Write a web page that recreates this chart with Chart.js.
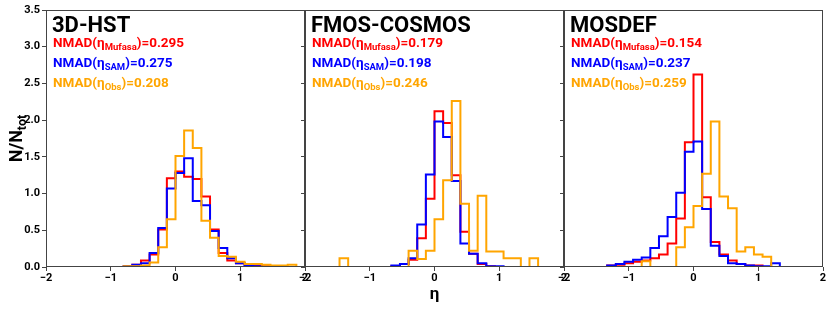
<!DOCTYPE html>
<html>
<head>
<meta charset="utf-8">
<script src="https://cdn.jsdelivr.net/npm/chart.js@4.4.1/dist/chart.umd.min.js"></script>
<style>
  html, body { margin: 0; padding: 0; background: #fff; }
  #wrap { position: relative; width: 831px; height: 309px; overflow: hidden; }
  #wrap canvas { position: absolute; top: 0; }
</style>
</head>
<body>
<div id="wrap">
  <canvas id="p0"></canvas>
  <canvas id="p1"></canvas>
  <canvas id="p2"></canvas>
</div>
<script>
// bin edges of eta (30 bins between -2 and 2)
const binEdges = [-2, -1.8667, -1.7333, -1.6, -1.4667, -1.3333, -1.2, -1.0667, -0.9333, -0.8,
  -0.6667, -0.5333, -0.4, -0.2667, -0.1333, 0, 0.1333, 0.2667, 0.4, 0.5333,
  0.6667, 0.8, 0.9333, 1.0667, 1.2, 1.3333, 1.4667, 1.6, 1.7333, 1.8667, 2];

const surveys = ['3D-HST', 'FMOS-COSMOS', 'MOSDEF'];
const nmadMufasa = [0.295, 0.179, 0.154];
const nmadSAM = [0.275, 0.198, 0.237];
const nmadObs = [0.208, 0.246, 0.259];

// N/Ntot per bin
const hstMufasa = [0, 0, 0, 0, 0, 0, 0, 0, 0, 0.01, 0.03, 0.09, 0.17, 0.51, 1.21, 1.30, 1.23, 1.20, 0.96, 0.51, 0.19, 0.09, 0.05, 0.03, 0.02, 0.01, 0.01, 0, 0, 0];
const hstSAM    = [0, 0, 0, 0, 0, 0, 0, 0, 0, 0.01, 0.03, 0.05, 0.19, 0.53, 1.07, 1.28, 1.48, 0.90, 0.84, 0.49, 0.26, 0.12, 0.05, 0.02, 0.01, 0, 0, 0, 0, 0];
const hstObs    = [0, 0, 0, 0, 0, 0, 0, 0, 0, 0.01, 0.01, 0.02, 0.06, 0.27, 0.65, 1.51, 1.86, 1.62, 0.63, 0.40, 0.15, 0.14, 0.07, 0.04, 0.04, 0.03, 0.02, 0.02, 0.03, 0];

const fmosMufasa = [0, 0, 0, 0, 0, 0, 0, 0, 0, 0, 0.01, 0.04, 0.10, 0.39, 0.93, 2.12, 1.96, 1.25, 0.48, 0.18, 0.04, 0.01, 0, 0, 0, 0, 0, 0, 0, 0];
const fmosSAM    = [0, 0, 0, 0, 0, 0, 0, 0, 0, 0, 0.02, 0.04, 0.12, 0.58, 1.26, 1.98, 1.77, 1.17, 0.32, 0.18, 0.05, 0.01, 0.01, 0, 0, 0, 0, 0, 0, 0];
const fmosObs    = [0, 0, 0, 0, 0.12, 0, 0, 0, 0, 0, 0, 0, 0.22, 0.11, 0.22, 0.65, 1.18, 2.26, 0.86, 0.22, 0.97, 0.21, 0.21, 0.12, 0.12, 0, 0.12, 0, 0, 0];

const mosdefMufasa = [0, 0, 0, 0, 0, 0.02, 0.03, 0.05, 0.07, 0.09, 0.12, 0.17, 0.32, 0.66, 1.70, 2.62, 0.95, 0.34, 0.17, 0.09, 0.04, 0.02, 0.02, 0, 0, 0, 0, 0, 0, 0];
const mosdefSAM    = [0, 0, 0, 0, 0, 0.02, 0.04, 0.07, 0.10, 0.13, 0.26, 0.42, 0.68, 1.01, 1.57, 1.71, 0.79, 0.29, 0.15, 0.05, 0.04, 0.02, 0.01, 0.01, 0.05, 0, 0, 0, 0, 0];
const mosdefObs    = [0, 0, 0, 0, 0, 0, 0, 0, 0, 0.08, 0, 0, 0, 0.27, 0.54, 0.83, 1.27, 1.98, 0.96, 0.80, 0.21, 0.27, 0.17, 0.14, 0, 0, 0, 0, 0, 0];

const xTicks = [-2, -1, 0, 1, 2];
const yTicks = [0, 0.5, 1, 1.5, 2, 2.5, 3, 3.5];

const RED = '#ff0000', BLUE = '#0000ff', ORANGE = '#ffa500';
const FONT = 'Roboto, "DejaVu Sans", sans-serif';

const panels = [
  { mufasa: hstMufasa, sam: hstSAM, obs: hstObs },
  { mufasa: fmosMufasa, sam: fmosSAM, obs: fmosObs },
  { mufasa: mosdefMufasa, sam: mosdefSAM, obs: mosdefObs }
];

const plotLeft = [46, 305, 564];
const plotW = 259, axisW = 46, padR = 14;

// step outline points at the bin edges
function stepPoints(vals) {
  const pts = vals.map((v, i) => ({ x: binEdges[i], y: v }));
  pts.push({ x: binEdges[binEdges.length - 1], y: vals[vals.length - 1] });
  return pts;
}

const frame = {
  id: 'frame',
  afterDatasetsDraw(chart) {
    const a = chart.chartArea, ctx = chart.ctx;
    ctx.save();
    ctx.strokeStyle = '#444';
    ctx.lineWidth = 1;
    ctx.strokeRect(a.left + 0.5, a.top + 0.5, a.right - a.left - 1, a.bottom - a.top - 1);
    ctx.restore();
  }
};

const panelText = {
  id: 'panelText',
  afterDraw(chart, args, opts) {
    const a = chart.chartArea, ctx = chart.ctx;
    ctx.save();
    ctx.textAlign = 'left';
    ctx.textBaseline = 'alphabetic';
    ctx.fillStyle = '#000';
    ctx.font = 'bold 22px ' + FONT;
    ctx.fillText(opts.title, a.left + 6, a.top + 22);
    opts.lines.forEach((ln, i) => {
      let x = a.left + 7;
      const y = a.top + 36.5 + i * 20;
      ctx.fillStyle = ln.color;
      ctx.font = 'bold 13.5px ' + FONT;
      ctx.fillText('NMAD(η', x, y);
      x += ctx.measureText('NMAD(η').width;
      ctx.font = 'bold 9.5px ' + FONT;
      ctx.fillText(ln.sub, x, y + 3);
      x += ctx.measureText(ln.sub).width;
      ctx.font = 'bold 13.5px ' + FONT;
      ctx.fillText(')=' + ln.value.toFixed(3), x, y);
    });
    if (opts.yTitle) {
      ctx.fillStyle = '#000';
      ctx.translate(16, (a.top + a.bottom) / 2);
      ctx.rotate(-Math.PI / 2);
      ctx.font = 'bold 18px ' + FONT;
      const w1 = ctx.measureText('N/N').width;
      ctx.font = 'bold 12.5px ' + FONT;
      const w2 = ctx.measureText('tot').width;
      const x0 = -(w1 + w2) / 2;
      ctx.font = 'bold 18px ' + FONT;
      ctx.fillText('N/N', x0, 6);
      ctx.font = 'bold 12.5px ' + FONT;
      ctx.fillText('tot', x0 + w1, 10);
    }
    ctx.restore();
  }
};

panels.forEach((p, i) => {
  const cv = document.getElementById('p' + i);
  cv.width = axisW + plotW + padR;
  cv.height = 309;
  cv.style.left = (plotLeft[i] - axisW) + 'px';

  new Chart(cv.getContext('2d'), {
    type: 'line',
    data: {
      datasets: [
        { label: 'Obs', data: stepPoints(p.obs), borderColor: ORANGE, order: 0 },
        { label: 'SAM', data: stepPoints(p.sam), borderColor: BLUE, order: 1 },
        { label: 'Mufasa', data: stepPoints(p.mufasa), borderColor: RED, order: 2 }
      ]
    },
    options: {
      responsive: false,
      animation: false,
      events: [],
      layout: { padding: { top: 10, right: padR, left: 0, bottom: 0 } },
      datasets: { line: { stepped: 'before', pointRadius: 0, borderWidth: 2, fill: false } },
      plugins: {
        legend: { display: false },
        tooltip: { enabled: false },
        panelText: {
          title: surveys[i],
          yTitle: i === 0,
          lines: [
            { color: RED, sub: 'Mufasa', value: nmadMufasa[i] },
            { color: BLUE, sub: 'SAM', value: nmadSAM[i] },
            { color: ORANGE, sub: 'Obs', value: nmadObs[i] }
          ]
        }
      },
      scales: {
        x: {
          type: 'linear', min: -2, max: 2,
          afterBuildTicks: s => { s.ticks = xTicks.map(v => ({ value: v })); },
          ticks: {
            autoSkip: false, maxRotation: 0, padding: 1, color: '#000',
            font: { family: FONT, size: 11, weight: 'bold' },
            callback: v => (v < 0 ? '−' + Math.abs(v) : String(v))
          },
          grid: { drawOnChartArea: false, tickLength: 4, color: '#444' },
          border: { display: false },
          title: {
            display: i === 1, text: 'η', color: '#000',
            font: { family: FONT, size: 17, weight: 'bold' },
            padding: { top: 0, bottom: 4 }
          },
          afterFit: s => { s.height = 42; }
        },
        y: {
          min: 0, max: 3.5,
          afterBuildTicks: s => { s.ticks = yTicks.map(v => ({ value: v })); },
          ticks: {
            autoSkip: false, padding: 2, color: '#000',
            font: { family: FONT, size: 11, weight: 'bold' },
            callback: v => (i === 0 ? v.toFixed(1) : '')
          },
          grid: { drawOnChartArea: false, tickLength: 4, color: '#444' },
          border: { display: false },
          afterFit: s => { s.width = axisW; }
        }
      }
    },
    plugins: [frame, panelText]
  });
});
</script>
</body>
</html>
